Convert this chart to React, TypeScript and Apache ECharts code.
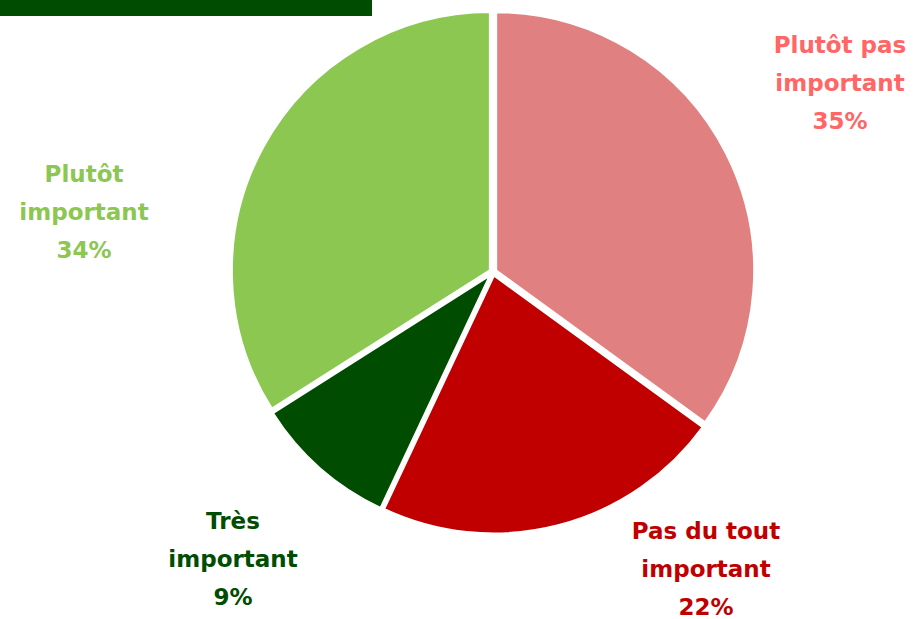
import React, { useEffect, useRef } from "react";
import * as echarts from "echarts";

const categories = [
  "Plutôt pas\nimportant",
  "Pas du tout\nimportant",
  "Très\nimportant",
  "Plutôt\nimportant",
];
const values = [35, 22, 9, 34];
const sliceColors = ["#E08080", "#C00000", "#004C00", "#8BC751"];
const labelColors = ["#FF6666", "#C00000", "#004C00", "#8BC751"];
// label anchor centres (layout)
const labelCenters = [
  [840, 83],
  [706, 569],
  [233, 559],
  [84, 212],
];

export default function App() {
  const ref = useRef<HTMLDivElement>(null);
  useEffect(() => {
    if (!ref.current) return;
    const chart = echarts.init(ref.current, null, { renderer: "svg" });
    chart.setOption({
      animation: false,
      backgroundColor: "#ffffff",
      graphic: [
        {
          type: "rect",
          left: 0,
          top: 0,
          shape: { width: 372, height: 16 },
          style: { fill: "#004C00" },
        },
        ...categories.map((name, i) => ({
          type: "text",
          x: labelCenters[i][0],
          y: labelCenters[i][1],
          style: {
            text: `${name}\n${values[i]}%`,
            fill: labelColors[i],
            font: "bold 23px 'DejaVu Sans'",
            lineHeight: 38,
            align: "center",
            verticalAlign: "middle",
          },
        })),
      ],
      series: [
        {
          type: "pie",
          center: [493, 272],
          radius: 259,
          startAngle: 90,
          clockwise: true,
          selectedMode: "multiple",
          selectedOffset: 3,
          emphasis: { disabled: true },
          itemStyle: { borderColor: "#ffffff", borderWidth: 3 },
          label: { show: false },
          labelLine: { show: false },
          data: categories.map((name, i) => ({
            name,
            value: values[i],
            selected: true,
            itemStyle: { color: sliceColors[i] },
            select: {
              itemStyle: { color: sliceColors[i], borderColor: "#ffffff", borderWidth: 3 },
            },
          })),
        },
      ],
    });
    return () => chart.dispose();
  }, []);
  return (
    <div
      ref={ref}
      style={{ position: "fixed", left: 0, top: 0, width: 915, height: 619 }}
    />
  );
}
